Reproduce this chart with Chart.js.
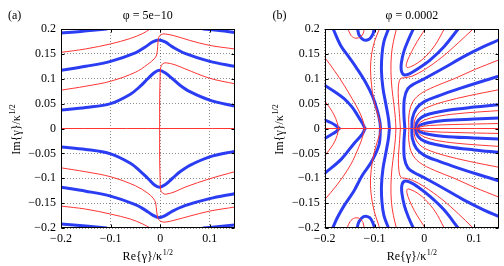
<!DOCTYPE html>
<html><head><meta charset="utf-8">
<script src="https://cdn.jsdelivr.net/npm/chart.js@4/dist/chart.umd.min.js"></script>
<style>
html,body{margin:0;padding:0;background:#fff;}
#wrap{position:relative;width:504px;height:266px;overflow:hidden;}
canvas{position:absolute;top:0;}
</style></head><body>
<div id="wrap"><canvas id="ca" width="252" height="266" style="left:0"></canvas><canvas id="cb" width="252" height="266" style="left:252px"></canvas></div>
<script>
// ---------- tick values / labels ----------
const xTickVals = [-0.2, -0.1, 0, 0.1];
const xTickLabels = ['\u22120.2', '\u22120.1', '0', '0.1'];
const yTickVals = [-0.2, -0.15, -0.1, -0.05, 0, 0.05, 0.1, 0.15, 0.2];
const yTickLabels = ['\u22120.2', '\u22120.15', '\u22120.1', '\u22120.05', '0', '0.05', '0.1', '0.15', '0.2'];
const titles = ['\u03c6 = 5e\u221210', '\u03c6 = 0.0002'];
const tags = ['(a)', '(b)'];

// ---------- panel (a) curves [Re, Im] ----------
const aBlueTopL = [[-0.2,0.192],[-0.16,0.195],[-0.13,0.198],[-0.108,0.2]];
const aBlueTopR = [[0.087,0.2],[0.11,0.198],[0.13,0.196],[0.15,0.193]];
const aRedB = [[-0.2,0.153],[-0.15,0.16],[-0.1,0.17],[-0.06,0.181],[-0.035,0.191],[-0.02,0.2]];
const aBlueC = [[-0.2,0.117],[-0.15,0.125],[-0.1,0.135],[-0.05,0.152],[-0.03,0.164],[-0.015,0.174],[-0.003,0.178],[0.01,0.174],[0.025,0.164],[0.05,0.151],[0.1,0.135],[0.15,0.125]];
const aRedD = [[-0.2,0.077],[-0.15,0.085],[-0.1,0.095],[-0.05,0.113],[-0.025,0.129],[-0.012,0.14],[-0.007,0.148],[-0.005,0.165],[-0.003,0.183],[0.002,0.189],[0.01,0.19],[0.03,0.186],[0.06,0.177],[0.1,0.167],[0.15,0.16]];
const aBlueE = [[-0.2,0.037],[-0.15,0.042],[-0.1,0.05],[-0.06,0.069],[-0.04,0.085],[-0.025,0.1],[-0.012,0.112],[-0.002,0.117],[0.01,0.112],[0.025,0.1],[0.04,0.087],[0.06,0.074],[0.1,0.057],[0.15,0.045]];
const aRedF = [[-0.001,0],[-0.001,0.06],[0.0,0.105],[0.001,0.122],[0.005,0.13],[0.012,0.132],[0.03,0.128],[0.05,0.12],[0.1,0.101],[0.15,0.09]];
const aAxis = [[-0.2,0],[0.15,0]];
const aBlueG = [[-0.2,-0.037],[-0.15,-0.042],[-0.1,-0.051],[-0.06,-0.07],[-0.04,-0.086],[-0.025,-0.1],[-0.012,-0.113],[-0.001,-0.118],[0.01,-0.113],[0.025,-0.1],[0.04,-0.087],[0.06,-0.074],[0.1,-0.057],[0.15,-0.046]];
const aRedF2 = [[-0.001,0],[-0.001,-0.06],[0.0,-0.105],[0.001,-0.123],[0.005,-0.13],[0.012,-0.132],[0.03,-0.127],[0.05,-0.118],[0.1,-0.101],[0.15,-0.087]];
const aRedH = [[-0.2,-0.079],[-0.15,-0.087],[-0.1,-0.097],[-0.05,-0.115],[-0.025,-0.13],[-0.014,-0.14],[-0.009,-0.15],[-0.007,-0.167],[-0.004,-0.181],[0.002,-0.187],[0.012,-0.188],[0.03,-0.184],[0.06,-0.176],[0.1,-0.166],[0.15,-0.158]];
const aBlueI = [[-0.2,-0.118],[-0.15,-0.126],[-0.1,-0.136],[-0.05,-0.153],[-0.03,-0.164],[-0.015,-0.174],[-0.003,-0.179],[0.01,-0.175],[0.025,-0.166],[0.05,-0.155],[0.1,-0.141],[0.15,-0.131]];
const aRedB2 = [[-0.2,-0.156],[-0.15,-0.162],[-0.1,-0.172],[-0.06,-0.182],[-0.035,-0.192],[-0.02,-0.2]];
const aBlueBotL = [[-0.2,-0.192],[-0.15,-0.196],[-0.108,-0.2]];
const aBlueBotR = [[0.087,-0.2],[0.11,-0.198],[0.13,-0.196],[0.15,-0.194]];

// ---------- panel (b) curves [Re, Im] ----------
const bBlue1U = [[-0.2,0.017],[-0.188,0.012],[-0.178,0.006],[-0.171,0]];
const bBlue1L = [[-0.171,0],[-0.178,-0.007],[-0.188,-0.013],[-0.2,-0.02]];
const bRed1U = [[-0.2,0.055],[-0.19,0.042],[-0.181,0.027],[-0.175,0.012],[-0.172,0]];
const bRed1L = [[-0.172,0],[-0.175,-0.014],[-0.183,-0.032],[-0.2,-0.055]];
const bBlue2U = [[-0.2,0.087],[-0.18,0.074],[-0.161,0.06],[-0.145,0.043],[-0.135,0.028],[-0.124,0.01],[-0.119,0]];
const bBlue2L = [[-0.119,0],[-0.125,-0.012],[-0.141,-0.03],[-0.167,-0.062],[-0.2,-0.09]];
const bRed2U = [[-0.2,0.143],[-0.181,0.117],[-0.161,0.087],[-0.145,0.06],[-0.131,0.035],[-0.123,0.015],[-0.12,0]];
const bRed2L = [[-0.12,0],[-0.124,-0.017],[-0.131,-0.036],[-0.148,-0.073],[-0.175,-0.113],[-0.2,-0.143]];
const bBlue3U = [[-0.183,0.2],[-0.168,0.167],[-0.151,0.143],[-0.135,0.12],[-0.118,0.093],[-0.104,0.065],[-0.094,0.035],[-0.089,0.012],[-0.088,0]];
const bBlue3L = [[-0.088,0],[-0.091,-0.033],[-0.106,-0.067],[-0.125,-0.095],[-0.141,-0.125],[-0.161,-0.155],[-0.175,-0.18],[-0.184,-0.2]];
const bRed3U = [[-0.09,0.2],[-0.1,0.175],[-0.106,0.148],[-0.108,0.12],[-0.106,0.088],[-0.102,0.06],[-0.095,0.033],[-0.089,0.01],[-0.088,0]];
const bRed3L = [[-0.088,0],[-0.09,-0.012],[-0.097,-0.035],[-0.104,-0.065],[-0.108,-0.1],[-0.107,-0.13],[-0.101,-0.165],[-0.093,-0.19],[-0.09,-0.2]];
const bBlue4U = [[-0.072,0.2],[-0.081,0.175],[-0.085,0.148],[-0.086,0.115],[-0.083,0.081],[-0.077,0.048],[-0.072,0.02],[-0.07,0]];
const bBlue4L = [[-0.07,0],[-0.072,-0.02],[-0.077,-0.048],[-0.083,-0.081],[-0.086,-0.115],[-0.085,-0.148],[-0.081,-0.175],[-0.072,-0.2]];
const bRed4U = [[-0.056,0.2],[-0.062,0.175],[-0.066,0.148],[-0.067,0.115],[-0.065,0.081],[-0.061,0.048],[-0.058,0.02],[-0.057,0]];
const bRed4L = [[-0.057,0],[-0.058,-0.02],[-0.061,-0.048],[-0.065,-0.081],[-0.067,-0.115],[-0.066,-0.148],[-0.062,-0.175],[-0.056,-0.2]];
const bLoopRedTop = [[-0.153,0.2],[-0.148,0.188],[-0.14,0.182],[-0.13,0.183],[-0.123,0.19],[-0.121,0.2]];
const bLoopBlueTop = [[-0.134,0.2],[-0.131,0.188],[-0.122,0.178],[-0.11,0.18],[-0.103,0.19],[-0.101,0.2]];
const bLoopRedBot = [[-0.155,-0.2],[-0.149,-0.187],[-0.14,-0.18],[-0.13,-0.181],[-0.123,-0.189],[-0.121,-0.2]];
const bLoopBlueBot = [[-0.135,-0.2],[-0.131,-0.187],[-0.122,-0.177],[-0.11,-0.179],[-0.103,-0.19],[-0.1,-0.2]];
const bHairBlueU = [[-0.022,0.2],[-0.032,0.178],[-0.041,0.155],[-0.046,0.132],[-0.046,0.116],[-0.041,0.108],[-0.03,0.11],[-0.013,0.12],[0.012,0.138],[0.04,0.165],[0.068,0.2]];
const bHairRedU = [[0.002,0.2],[-0.008,0.185],[-0.02,0.165],[-0.03,0.145],[-0.036,0.13],[-0.035,0.123],[-0.028,0.124],[-0.013,0.132],[0.003,0.145],[0.022,0.168],[0.04,0.2]];
const bHairBlueL = [[-0.022,-0.2],[-0.032,-0.178],[-0.04,-0.155],[-0.045,-0.13],[-0.045,-0.114],[-0.04,-0.106],[-0.029,-0.108],[-0.012,-0.118],[0.012,-0.137],[0.04,-0.164],[0.068,-0.2]];
const bHairRedL = [[0.002,-0.2],[-0.008,-0.185],[-0.02,-0.165],[-0.03,-0.144],[-0.035,-0.129],[-0.034,-0.122],[-0.027,-0.123],[-0.012,-0.131],[0.003,-0.144],[0.022,-0.167],[0.04,-0.2]];
const bFanRed1U = [[-0.048,0],[-0.05,0.03],[-0.052,0.06],[-0.052,0.085],[-0.048,0.1],[-0.04,0.102],[-0.025,0.105],[0.0,0.118],[0.035,0.143],[0.068,0.172],[0.098,0.2]];
const bFanRed1L = [[-0.048,0],[-0.05,-0.03],[-0.052,-0.06],[-0.051,-0.084],[-0.047,-0.098],[-0.039,-0.1],[-0.024,-0.104],[0.0,-0.117],[0.035,-0.142],[0.068,-0.171],[0.098,-0.2]];
const bFanBlue1U = [[-0.039,0],[-0.041,0.03],[-0.04,0.06],[-0.033,0.08],[-0.02,0.09],[0.0,0.1],[0.04,0.122],[0.08,0.145],[0.12,0.165],[0.15,0.178]];
const bFanBlue1L = [[-0.039,0],[-0.041,-0.03],[-0.04,-0.06],[-0.033,-0.079],[-0.02,-0.089],[0.0,-0.099],[0.04,-0.121],[0.08,-0.144],[0.12,-0.164],[0.15,-0.177]];
const bFanRed2U = [[-0.031,0],[-0.031,0.025],[-0.025,0.05],[-0.01,0.068],[0.02,0.084],[0.06,0.1],[0.1,0.118],[0.15,0.138]];
const bFanRed2L = [[-0.031,0],[-0.031,-0.025],[-0.025,-0.05],[-0.01,-0.068],[0.02,-0.084],[0.06,-0.1],[0.1,-0.118],[0.15,-0.138]];
const bFanBlue2U = [[-0.025,0],[-0.024,0.02],[-0.016,0.04],[0.0,0.054],[0.03,0.066],[0.07,0.08],[0.11,0.093],[0.15,0.105]];
const bFanBlue2L = [[-0.025,0],[-0.024,-0.02],[-0.016,-0.04],[0.0,-0.054],[0.03,-0.066],[0.07,-0.08],[0.11,-0.093],[0.15,-0.105]];
const bFanRed3U = [[-0.021,0],[-0.019,0.017],[-0.01,0.032],[0.005,0.042],[0.04,0.054],[0.09,0.066],[0.15,0.078]];
const bFanRed3L = [[-0.021,0],[-0.019,-0.017],[-0.01,-0.032],[0.005,-0.042],[0.04,-0.054],[0.09,-0.066],[0.15,-0.078]];
const bFanBlue3U = [[-0.018,0],[-0.015,0.012],[-0.006,0.022],[0.01,0.029],[0.05,0.037],[0.1,0.043],[0.15,0.048]];
const bFanBlue3L = [[-0.018,0],[-0.015,-0.012],[-0.006,-0.022],[0.01,-0.029],[0.05,-0.037],[0.1,-0.043],[0.15,-0.048]];
const bFanRed4U = [[-0.016,0],[-0.012,0.009],[0.0,0.017],[0.03,0.025],[0.08,0.031],[0.15,0.036]];
const bFanRed4L = [[-0.016,0],[-0.012,-0.009],[0.0,-0.017],[0.03,-0.025],[0.08,-0.031],[0.15,-0.036]];
const bFanBlue4U = [[-0.0145,0],[-0.01,0.006],[0.005,0.011],[0.04,0.016],[0.1,0.019],[0.15,0.021]];
const bFanBlue4L = [[-0.0145,0],[-0.01,-0.006],[0.005,-0.011],[0.04,-0.016],[0.1,-0.019],[0.15,-0.021]];
const bFanRed5U = [[-0.013,0],[-0.008,0.003],[0.01,0.006],[0.06,0.008],[0.15,0.01]];
const bFanRed5L = [[-0.013,0],[-0.008,-0.003],[0.01,-0.006],[0.06,-0.008],[0.15,-0.01]];
const bAxis = [[-0.2,0],[0.15,0]];

const BLUE = '#2b3df2', RED = '#ff3535';

const aBlue = [aBlueTopL, aBlueTopR, aBlueC, aBlueE, aBlueG, aBlueI, aBlueBotL, aBlueBotR];
const aRed = [aRedB, aRedD, aRedF, aAxis, aRedF2, aRedH, aRedB2];
const bBlue = [bBlue1U, bBlue1L, bBlue2U, bBlue2L, bBlue3U, bBlue3L, bBlue4U, bBlue4L, bLoopBlueTop, bLoopBlueBot,
  bHairBlueU, bHairBlueL, bFanBlue1U, bFanBlue1L, bFanBlue2U, bFanBlue2L, bFanBlue3U, bFanBlue3L, bFanBlue4U, bFanBlue4L];
const bRed = [bRed1U, bRed1L, bRed2U, bRed2L, bRed3U, bRed3L, bRed4U, bRed4L, bLoopRedTop, bLoopRedBot,
  bHairRedU, bHairRedL, bFanRed1U, bFanRed1L, bFanRed2U, bFanRed2L, bFanRed3U, bFanRed3L, bFanRed4U, bFanRed4L, bFanRed5U, bFanRed5L, bAxis];

function mk(arr, isBlue) {
  return {
    data: arr.map(p => ({x: p[0], y: p[1]})),
    showLine: true, borderColor: isBlue ? BLUE : RED, backgroundColor: isBlue ? BLUE : RED,
    borderWidth: isBlue ? 3 : 1, pointRadius: 0, pointHoverRadius: 0, tension: 0.35,
    borderCapStyle: 'round', borderJoinStyle: 'round', clip: 0, order: isBlue ? 2 : 1, fill: false
  };
}

const FONT = '"Liberation Serif", "Times New Roman", serif';

function drawSup(ctx, main, sup, cx, by) {
  ctx.font = '12px ' + FONT;
  const w1 = ctx.measureText(main).width;
  ctx.font = '8px ' + FONT;
  const w2 = ctx.measureText(sup).width;
  const x0 = cx - (w1 + w2 + 0.5) / 2;
  ctx.textAlign = 'left';
  ctx.textBaseline = 'alphabetic';
  ctx.font = '12px ' + FONT;
  ctx.fillText(main, x0, by);
  ctx.font = '8px ' + FONT;
  ctx.fillText(sup, x0 + w1 + 0.5, by - 5);
}

const decor = {
  id: 'decor',
  afterDraw(chart, args, o) {
    const {ctx, chartArea: a, scales: {x, y}} = chart;
    ctx.save();
    ctx.strokeStyle = '#000'; ctx.lineWidth = 1;
    const L = 3;
    const l = Math.round(a.left) + 0.5, r = Math.round(a.right) - 0.5, t = Math.round(a.top) + 0.5, b = Math.round(a.bottom) - 0.5;
    ctx.beginPath();
    xTickVals.forEach(v => {
      const px = Math.round(x.getPixelForValue(v)) + 0.5;
      ctx.moveTo(px, b); ctx.lineTo(px, b - L);
      ctx.moveTo(px, t); ctx.lineTo(px, t + L);
    });
    yTickVals.forEach(v => {
      const py = Math.round(y.getPixelForValue(v)) + 0.5;
      ctx.moveTo(l, py); ctx.lineTo(l + L, py);
      ctx.moveTo(r, py); ctx.lineTo(r - L, py);
    });
    ctx.stroke();
    ctx.strokeRect(l, t, r - l, b - t);
    ctx.fillStyle = '#000';
    ctx.font = '12px ' + FONT;
    ctx.textBaseline = 'alphabetic';
    ctx.textAlign = 'center';
    ctx.fillText(o.title, (a.left + a.right) / 2, 18.5);
    ctx.textAlign = 'left';
    ctx.fillText(o.tag, o.tagX, 18.5);
    drawSup(ctx, 'Re{\u03b3}/\u03ba', '1/2', (a.left + a.right) / 2, 260);
    ctx.translate(o.yLabelX, (a.top + a.bottom) / 2 + 1);
    ctx.rotate(-Math.PI / 2);
    drawSup(ctx, 'Im{\u03b3}/\u03ba', '1/2', 0, 0);
    ctx.restore();
  }
};

function makeChart(id, blues, reds, idx, yAxisW, padRight, tagX, yLabelX) {
  const datasets = reds.map(d => mk(d, false)).concat(blues.map(d => mk(d, true)));
  return new Chart(document.getElementById(id), {
    type: 'scatter',
    data: {datasets},
    options: {
      responsive: false, animation: false, devicePixelRatio: 1, events: [],
      layout: {padding: {left: 0, right: padRight, top: 29, bottom: 0}},
      plugins: {legend: {display: false}, tooltip: {enabled: false},
        decor: {title: titles[idx], tag: tags[idx], tagX: tagX, yLabelX: yLabelX}},
      scales: {
        x: {
          type: 'linear', min: -0.2, max: 0.15,
          afterBuildTicks: s => { s.ticks = xTickVals.map(v => ({value: v})); },
          afterFit: s => { s.height = 38; },
          ticks: {callback: (v, i) => xTickLabels[i], autoSkip: false, maxRotation: 0, padding: 4, color: '#000', font: {family: FONT, size: 12}},
          grid: {color: 'rgba(0,0,0,0.45)', lineWidth: 1, drawTicks: false},
          border: {display: false, dash: [1, 2]}
        },
        y: {
          type: 'linear', min: -0.2, max: 0.2,
          afterBuildTicks: s => { s.ticks = yTickVals.map(v => ({value: v})); },
          afterFit: s => { s.width = yAxisW; },
          ticks: {callback: (v, i) => yTickLabels[i], autoSkip: false, padding: 5, color: '#000', font: {family: FONT, size: 12}},
          grid: {color: 'rgba(0,0,0,0.45)', lineWidth: 1, drawTicks: false},
          border: {display: false, dash: [1, 2]}
        }
      }
    },
    plugins: [decor]
  });
}

makeChart('ca', aBlue, aRed, 0, 61, 17.5, 8, 19.5);
makeChart('cb', bBlue, bRed, 1, 72.7, 5, 20.5, 31);
</script>
</body></html>
